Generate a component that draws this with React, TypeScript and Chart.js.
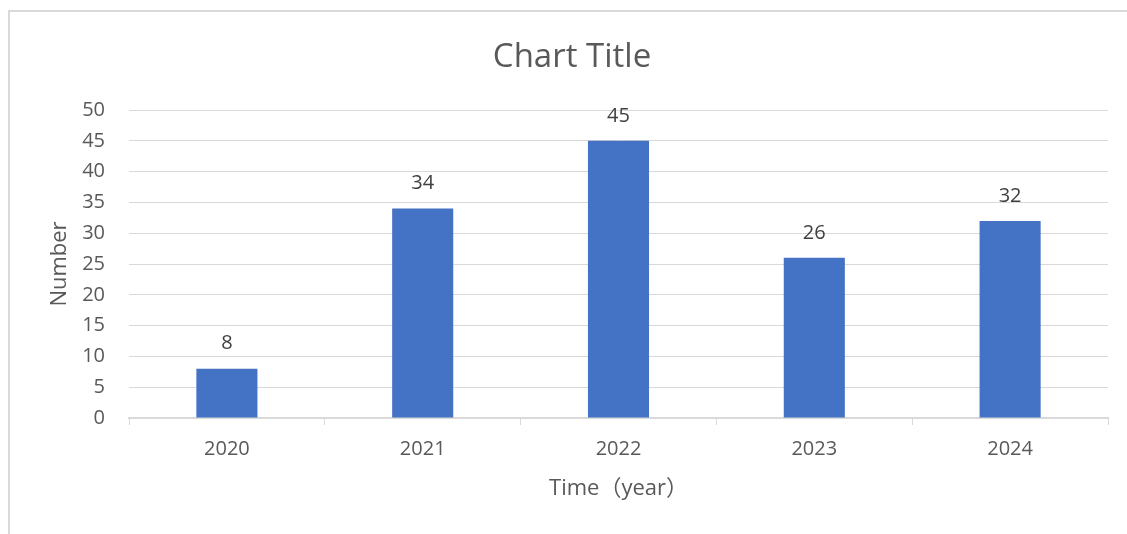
import React, { useEffect, useRef } from "react";
import { Chart, registerables } from "chart.js";

Chart.register(...registerables);

const categories = ["2020", "2021", "2022", "2023", "2024"];
const values = [8, 34, 45, 26, 32];
const yTicks = [0, 5, 10, 15, 20, 25, 30, 35, 40, 45, 50];

const FONT = "'Open Sans', 'Noto Sans CJK SC', sans-serif";
const TEXT = "#595959";
const GRID = "#D9D9D9";
const BAR = "#4472C4";

const dataLabels = {
  id: "dataLabels",
  afterDatasetsDraw(chart: any) {
    const ctx = chart.ctx;
    const meta = chart.getDatasetMeta(0);
    ctx.save();
    ctx.font = `20px ${FONT}`;
    ctx.fillStyle = "#404040";
    ctx.textAlign = "center";
    ctx.textBaseline = "middle";
    meta.data.forEach((bar: any, i: number) => {
      ctx.fillText(String(chart.data.datasets[0].data[i]), bar.x, bar.y - 25);
    });
    ctx.restore();
  },
};

export default function App() {
  const ref = useRef<HTMLCanvasElement>(null);
  useEffect(() => {
    if (!ref.current) return;
    const chart = new Chart(ref.current, {
      type: "bar",
      data: {
        labels: categories,
        datasets: [
          {
            data: values,
            backgroundColor: BAR,
            categoryPercentage: 1,
            barPercentage: 0.312,
          },
        ],
      },
      plugins: [dataLabels],
      options: {
        animation: false,
        responsive: false,
        maintainAspectRatio: false,
        layout: { padding: { left: 36, right: 19, top: 0, bottom: 0 } },
        plugins: {
          legend: { display: false },
          tooltip: { enabled: false },
          title: {
            display: true,
            text: "Chart Title",
            color: TEXT,
            font: { family: FONT, size: 33, weight: "normal" },
            padding: { top: 38, bottom: 32.4 },
          },
        },
        scales: {
          x: {
            grid: {
              drawOnChartArea: false,
              drawTicks: true,
              tickLength: 7,
              color: GRID,
              offset: true,
            },
            border: { display: true, color: GRID, width: 2 },
            ticks: {
              color: TEXT,
              font: { family: FONT, size: 20 },
              padding: 12,
            },
            title: {
              display: true,
              text: "Time（year）",
              color: TEXT,
              font: { family: FONT, size: 22 },
              padding: { top: 10, bottom: 31.8 },
            },
            afterFit: (s: any) => {
              s.height = 116;
            },
          },
          y: {
            min: 0,
            max: 50,
            afterBuildTicks: (s: any) => {
              s.ticks = yTicks.map((v) => ({ value: v }));
            },
            grid: { color: GRID, lineWidth: 1, drawTicks: false },
            border: { display: false },
            ticks: {
              color: TEXT,
              font: { family: FONT, size: 20 },
              padding: 24,
            },
            title: {
              display: true,
              text: "Number",
              color: TEXT,
              font: { family: FONT, size: 22 },
              padding: { top: 10.8, bottom: 0 },
            },
            afterFit: (s: any) => {
              s.width = 93;
            },
          },
        },
      },
    });
    return () => chart.destroy();
  }, []);
  return (
    <div style={{ position: "fixed", left: 0, top: 0, width: 1127, height: 534, background: "#fff" }}>
      <div
        style={{
          position: "absolute",
          left: 8,
          top: 10,
          width: 1140,
          height: 540,
          borderTop: "2px solid #D9D9D9",
          borderLeft: "2px solid #D9D9D9",
          boxSizing: "border-box",
        }}
      />
      <canvas ref={ref} width={1127} height={534} style={{ position: "absolute", left: 0, top: 0 }} />
    </div>
  );
}
